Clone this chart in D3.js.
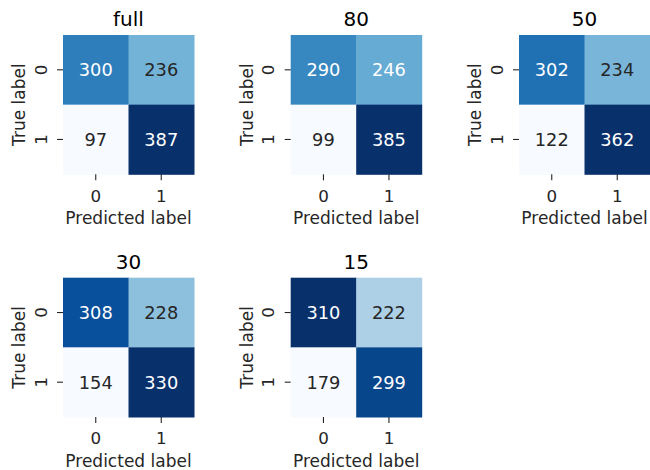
<!DOCTYPE html>
<html>
<head>
<meta charset="utf-8">
<script src="https://cdn.jsdelivr.net/npm/d3@7"></script>
<style>
  html, body { margin: 0; padding: 0; background: #fff; }
  svg { display: block; font-family: "DejaVu Sans", sans-serif; }
</style>
</head>
<body>
<svg id="chart" width="650" height="470"></svg>
<script>
// Confusion matrices for each training-set size
const titles = ["full", "80", "50", "30", "15"];
const classLabels = ["0", "1"];
const matrixFull = [[300, 236], [97, 387]];
const matrix80   = [[290, 246], [99, 385]];
const matrix50   = [[302, 234], [122, 362]];
const matrix30   = [[308, 228], [154, 330]];
const matrix15   = [[310, 222], [179, 299]];
const matrices = [matrixFull, matrix80, matrix50, matrix30, matrix15];

// Blues colour map (ColorBrewer 9-class control points, 256-step lookup)
const bluesStops = ["#f7fbff", "#deebf7", "#c6dbef", "#9ecae1", "#6baed6",
                    "#4292c6", "#2171b5", "#08519c", "#08306b"];
const bluesLinear = d3.scaleLinear()
  .domain(d3.range(bluesStops.length).map(i => i / (bluesStops.length - 1)))
  .range(bluesStops)
  .interpolate(d3.interpolateRgb);
function blues(t) {
  const i = Math.min(255, Math.max(0, Math.floor(t * 256)));
  return bluesLinear(i / 255);
}
function luminance(c) {
  const rgb = d3.rgb(c);
  const lin = v => { v /= 255; return v <= 0.03928 ? v / 12.92 : Math.pow((v + 0.055) / 1.055, 2.4); };
  return 0.2126 * lin(rgb.r) + 0.7152 * lin(rgb.g) + 0.0722 * lin(rgb.b);
}

const svg = d3.select("#chart");
const panelW = 131, panelH = 139.3;
const colLeft = [63, 290.7, 519];
const rowTop = [35, 277.7];
const ink = "#262626";

matrices.forEach((m, k) => {
  const x0 = colLeft[k % 3], y0 = rowTop[Math.floor(k / 3)];
  const g = svg.append("g").attr("transform", `translate(${x0},${y0})`);

  const x = d3.scaleBand().domain(classLabels).range([0, panelW]);
  const y = d3.scaleBand().domain(classLabels).range([0, panelH]);
  const flat = m.flat();
  const color = d3.scaleLinear().domain([d3.min(flat), d3.max(flat)]).range([0, 1]);

  const cells = [];
  m.forEach((row, r) => row.forEach((v, c) => cells.push({ r, c, v })));

  g.selectAll("rect.cell").data(cells).join("rect")
    .attr("class", "cell")
    .attr("x", d => x(classLabels[d.c]))
    .attr("y", d => y(classLabels[d.r]))
    .attr("width", x.bandwidth() + 0.5)
    .attr("height", y.bandwidth() + 0.5)
    .attr("fill", d => blues(color(d.v)));

  g.selectAll("text.annot").data(cells).join("text")
    .attr("class", "annot")
    .attr("x", d => x(classLabels[d.c]) + x.bandwidth() / 2)
    .attr("y", d => y(classLabels[d.r]) + y.bandwidth() / 2)
    .attr("dy", "0.37em")
    .attr("text-anchor", "middle")
    .style("font-size", "17.8px")
    .attr("fill", d => luminance(blues(color(d.v))) > 0.408 ? ink : "#ffffff")
    .text(d => d.v);

  // x axis
  const xAxis = g.append("g").attr("transform", `translate(0,${panelH})`)
    .call(d3.axisBottom(x).tickSize(6).tickSizeOuter(0));
  xAxis.attr("font-size", null).attr("font-family", null);
  xAxis.select(".domain").remove();
  xAxis.selectAll(".tick line").attr("stroke", ink).attr("stroke-width", 1.1);
  xAxis.selectAll(".tick text")
    .attr("y", 27.3).attr("dy", 0)
    .style("font-size", "16.7px")
    .attr("fill", ink);

  // y axis with vertical tick labels
  const yAxis = g.append("g").call(d3.axisLeft(y).tickSize(6).tickSizeOuter(0));
  yAxis.attr("font-size", null).attr("font-family", null);
  yAxis.select(".domain").remove();
  yAxis.selectAll(".tick line").attr("stroke", ink).attr("stroke-width", 1.1);
  yAxis.selectAll(".tick text")
    .attr("x", 0).attr("dy", 0)
    .attr("transform", "translate(-16.3,0) rotate(-90)")
    .attr("text-anchor", "middle")
    .style("font-size", "16.7px")
    .attr("fill", ink);

  g.append("text")
    .attr("x", panelW / 2).attr("y", panelH + 50)
    .attr("text-anchor", "middle")
    .style("font-size", "17px").attr("fill", ink)
    .text("Predicted label");

  g.append("text")
    .attr("transform", `translate(-38,${panelH / 2}) rotate(-90)`)
    .attr("text-anchor", "middle")
    .style("font-size", "17px").attr("fill", ink)
    .text("True label");

  g.append("text")
    .attr("x", panelW / 2).attr("y", -9)
    .attr("text-anchor", "middle")
    .style("font-size", "20px").attr("fill", "#000")
    .text(titles[k]);
});
</script>
</body>
</html>
